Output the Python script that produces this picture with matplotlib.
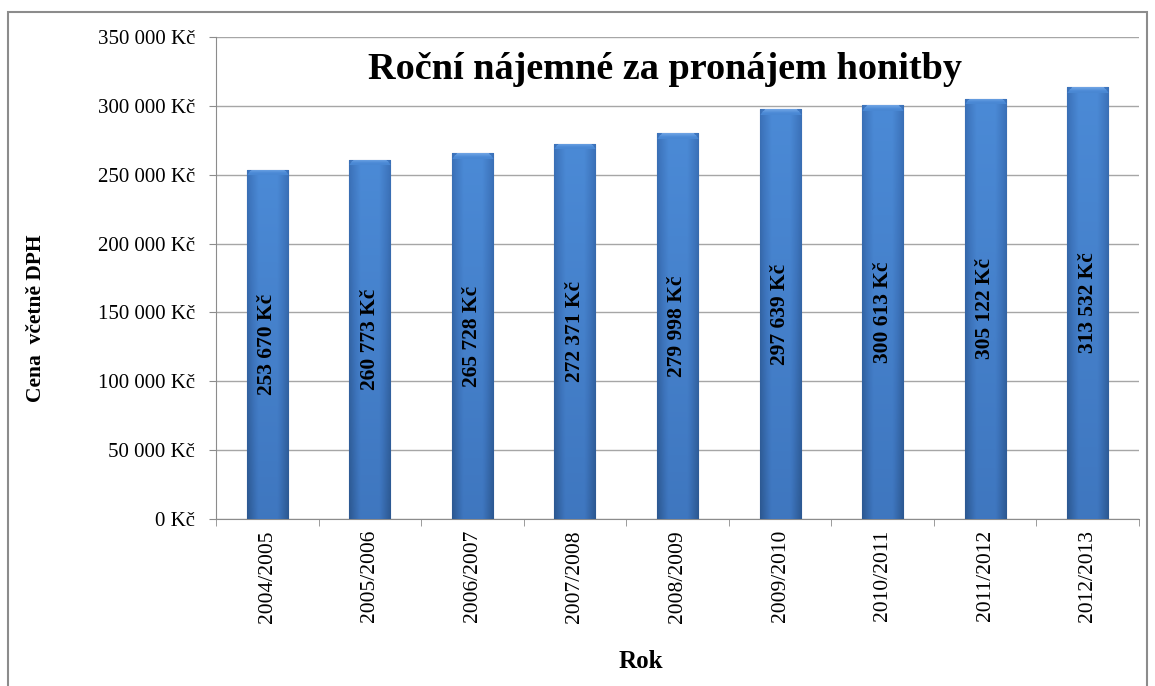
import numpy as np
import matplotlib
matplotlib.use('Agg')
import matplotlib.pyplot as plt
from matplotlib.patches import Rectangle
from matplotlib.colors import LinearSegmentedColormap
from matplotlib.ticker import FuncFormatter

# data
years = ['2004/2005', '2005/2006', '2006/2007', '2007/2008', '2008/2009',
         '2009/2010', '2010/2011', '2011/2012', '2012/2013']
rent = [253670, 260773, 265728, 272371, 279998, 297639, 300613, 305122, 313532]

title = 'Roční nájemné za pronájem honitby'
ylabel = 'Cena  včetně DPH'
xlabel = 'Rok'


def czk(v):
    # space as thousands separator, like the Czech Excel format
    return '{:,.0f} Kč'.format(v).replace(',', ' ')


plt.rcParams['font.family'] = ['Liberation Serif', 'DejaVu Serif']

fig = plt.figure(figsize=(11.55, 6.86), dpi=100)
ax = fig.add_axes([216 / 1155, 1 - 519 / 686, (1139 - 216) / 1155, (519 - 37) / 686])

# outer chart border
fig.patches.append(Rectangle((8 / 1155, -0.01), (1147 - 8) / 1155, 1 - 12 / 686 + 0.01,
                             transform=fig.transFigure, fill=False,
                             edgecolor='#8c8c8c', linewidth=1.5))

x = np.arange(len(years))
bars = ax.bar(x, rent, width=0.4, color='#3f76bf', edgecolor='#2f5b96',
              linewidth=0.8, zorder=3)

ax.set_xlim(-0.5, len(years) - 0.5)
ax.set_ylim(0, 350000)

# gradient fill on each bar (darker sides and bottom, lighter top, bevel on top)
cmap = LinearSegmentedColormap.from_list(
    'bar', [(0, '#2c5891'), (0.4, '#3d74bc'), (0.8, '#4b8ad6'), (1, '#8fbaf0')])
cols = np.linspace(0, 1, 60)
side = np.clip((1 - np.abs(cols - 0.5) * 2) * 1.8, 0, 1)
px_per_unit = 482 / 350000
for b in bars:
    x0, y0 = b.get_x(), b.get_y()
    w, hh = b.get_width(), b.get_height()
    rows = max(int(hh * px_per_unit), 10)
    v = np.linspace(0, 1, rows)[:, None]
    grad = 0.45 * side[None, :] + 0.35 * v
    # bevel strip at the top of the bar
    bev = 6
    for r in range(bev):
        inset = int((bev - r) * 1.2)
        grad[rows - 1 - r, inset:60 - inset] = 0.9 - 0.03 * r
    im = ax.imshow(grad, cmap=cmap, extent=(x0, x0 + w, y0, y0 + hh), vmin=0, vmax=1,
                   origin='lower', aspect='auto', zorder=3.5, interpolation='bilinear')
    im.set_clip_path(b)

for xi, val in zip(x, rent):
    ax.text(xi, val / 2, czk(val), rotation=90, ha='center', va='center',
            fontsize=15.5, fontweight='bold', color='black', zorder=5)

ax.set_yticks(np.arange(0, 350001, 50000))
ax.yaxis.set_major_formatter(FuncFormatter(lambda v, p: czk(v)))
ax.grid(axis='y', color='#a6a6a6', linewidth=1, zorder=0)

ax.set_xticks(x)
ax.set_xticklabels(years, rotation=90)
ax.set_xticks(np.arange(-0.5, len(years)), minor=True)
ax.tick_params(axis='x', which='major', length=0, pad=8, labelsize=15.5)
ax.tick_params(axis='x', which='minor', length=5, color='#8c8c8c')
ax.tick_params(axis='y', length=5, color='#8c8c8c', labelsize=15, pad=10)

for s in ['top', 'right']:
    ax.spines[s].set_visible(False)
ax.spines['left'].set_color('#8c8c8c')
ax.spines['bottom'].set_color('#8c8c8c')

ax.text(0.486, 0.933, title, transform=ax.transAxes, ha='center', va='center',
        fontsize=27.5, fontweight='bold')
fig.text(0.031, 0.536, ylabel, rotation=90, ha='center', va='center',
         fontsize=15.5, fontweight='bold')
fig.text(0.555, 0.036, xlabel, ha='center', va='center', fontsize=18, fontweight='bold')

fig.savefig('out.png', dpi=100)
